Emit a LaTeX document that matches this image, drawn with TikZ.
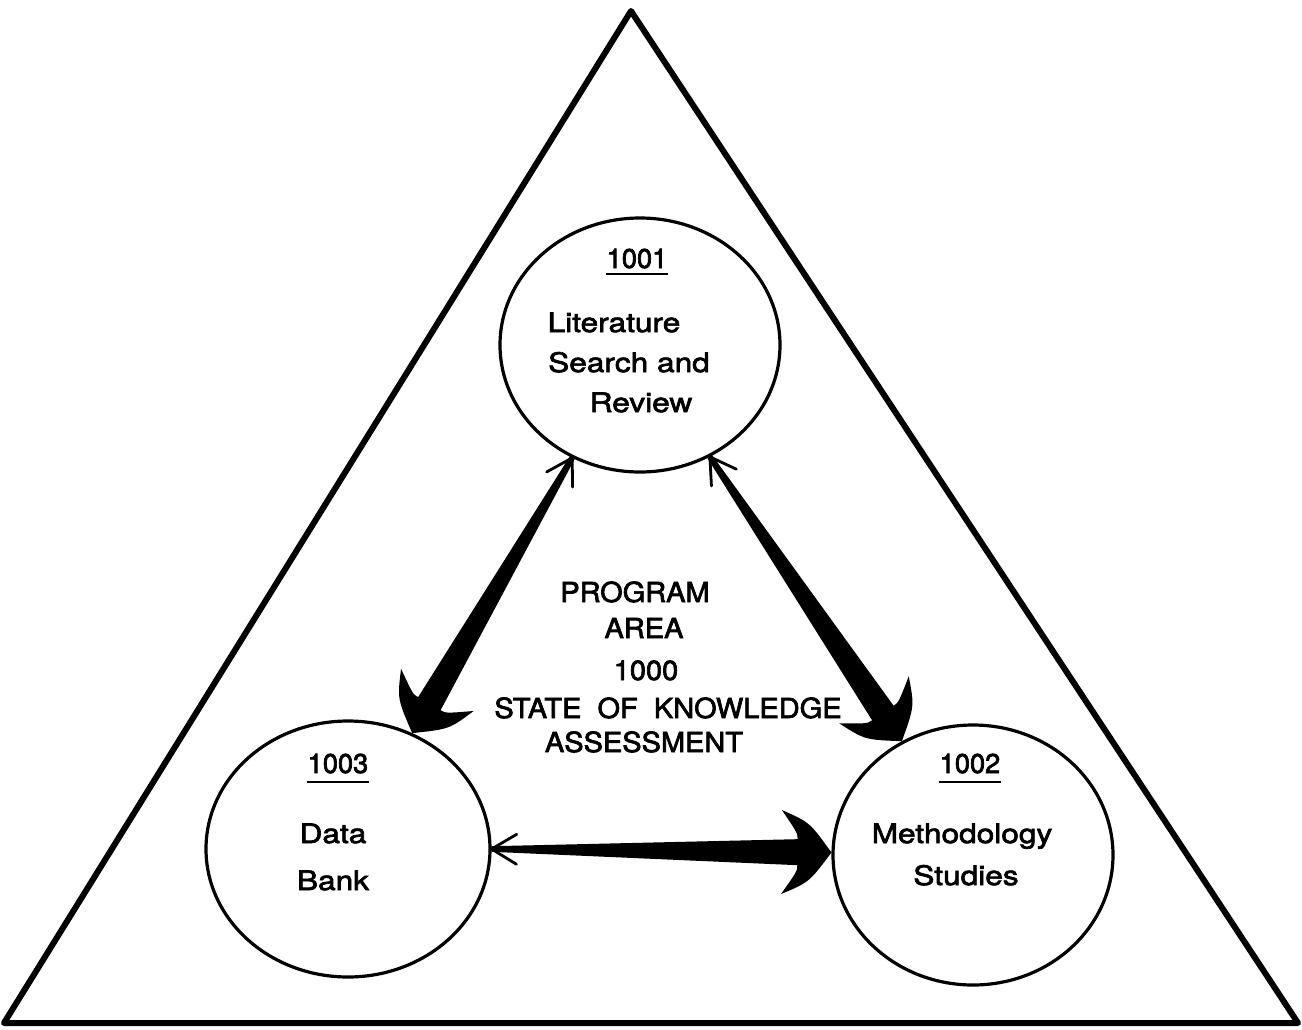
\documentclass[tikz,border=0pt]{standalone}
\usepackage{fontspec}
\setmainfont[FakeBold=2.5]{TeX Gyre Heros}
\newfontfamily\lowerfont[FakeStretch=1.18,FakeBold=2.5]{TeX Gyre Heros}
\newfontfamily\capsfont[FakeStretch=1.05,FakeBold=2.5]{TeX Gyre Heros}
\usetikzlibrary{shapes.geometric,calc}

% Tapered connector: thin end with an open head at #1, thick end with a
% large barbed head at #2.
\newcommand\taperarrow[2]{%
  \coordinate (ta) at (#1);
  \coordinate (tb) at (#2);
  \coordinate (hb) at ($(tb)!25pt!(ta)$);
  \coordinate (hj) at ($(tb)!17pt!(ta)$);
  \coordinate (hm) at ($(tb)!11pt!(ta)$);
  \coordinate (bl) at ($(hb)!21pt!90:(ta)$);
  \coordinate (br) at ($(hb)!21pt!-90:(ta)$);
  \coordinate (jl) at ($(hj)!6.5pt!90:(ta)$);
  \coordinate (jr) at ($(hj)!6.5pt!-90:(ta)$);
  \coordinate (kl) at ($(hj)!9.5pt!90:(ta)$);
  \coordinate (kr) at ($(hj)!9.5pt!-90:(ta)$);
  \coordinate (cl) at ($(hm)!15pt!90:(ta)$);
  \coordinate (cr) at ($(hm)!15pt!-90:(ta)$);
  \coordinate (tl) at ($(ta)!1.4pt!-90:(tb)$);
  \coordinate (tr) at ($(ta)!1.4pt!90:(tb)$);
  \fill (tb) .. controls (cl) .. (bl) .. controls (kl) .. (jl) -- (tl)
        -- (tr) -- (jr) .. controls (kr) .. (br) .. controls (cr) .. (tb) -- cycle;
  \coordinate (sb) at ($(ta)!12.5pt!(tb)$);
  \draw[line width=1.4pt, line cap=round, line join=round]
        ($(sb)!7.5pt!90:(tb)$) -- (ta) -- ($(sb)!7.5pt!-90:(tb)$);
}

\begin{document}
\begin{tikzpicture}[x=0.5pt, y=-0.5pt,
  bubble/.style={draw, ellipse, line width=1.6pt, inner sep=0pt},
  tri/.style={draw, line width=3pt, line join=round},
  lbl/.style={inner sep=0pt, anchor=base, font=\fontsize{13.6pt}{16pt}\selectfont},
  lowlbl/.style={lbl, font=\fontsize{13.4pt}{16pt}\lowerfont},
  capslbl/.style={lbl, font=\fontsize{13.8pt}{16pt}\capsfont},
  uline/.style={line width=1.4pt}]

\fill[white] (0,0) rectangle (1302,1029);
\useasboundingbox (0,0) rectangle (1302,1029);

% outer triangle
\draw[tri] (631,11) -- (1298,1023) -- (4,1023) -- cycle;

% the three project areas
\node[bubble, minimum width=140pt, minimum height=127pt] (c1) at (640,345) {};
\node[bubble, minimum width=142pt, minimum height=128pt] (c3) at (348,849) {};
\node[bubble, minimum width=140pt, minimum height=130pt] (c2) at (973,855) {};

% labels of 1001
\node[lbl] (n1) at (637,268) {1001};
\draw[uline] ([yshift=-3pt]n1.base west) -- ([yshift=-3pt]n1.base east);
\node[lowlbl] (t1a) at (614,332) {Literature};
\node[lowlbl] (t1b) at (629,372) {Search and};
\node[lowlbl] (t1c) at (641,412) {Review};

% labels of 1003
\node[lbl] (n3) at (338,773) {1003};
\draw[uline] ([yshift=-4.5pt]n3.base west) -- ([yshift=-4.5pt]n3.base east);
\node[lowlbl] (t3a) at (333,843) {Data};
\node[lowlbl] (t3b) at (333,890) {Bank};

% labels of 1002
\node[lbl] (n2) at (970,773) {1002};
\draw[uline] ([yshift=-4.5pt]n2.base west) -- ([yshift=-4.5pt]n2.base east);
\node[lowlbl] (t2a) at (962,843) {Methodology};
\node[lowlbl] (t2b) at (966,885) {Studies};

% programme area title
\node[capslbl] (p1) at (635,602) {PROGRAM};
\node[capslbl] (p2) at (644,638) {AREA};
\node[capslbl] (p3) at (646,680) {1000};
\node[capslbl] (p4) at (668,718) {STATE\ \ OF\ \ KNOWLEDGE};
\node[capslbl] (p5) at (644,752) {ASSESSMENT};

% connectors between the areas
\taperarrow{c1.239.4}{c3.61.1}
\taperarrow{c1.302.9}{c2.122.9}
\taperarrow{c3.0}{c2.179.2}
\end{tikzpicture}
\end{document}
